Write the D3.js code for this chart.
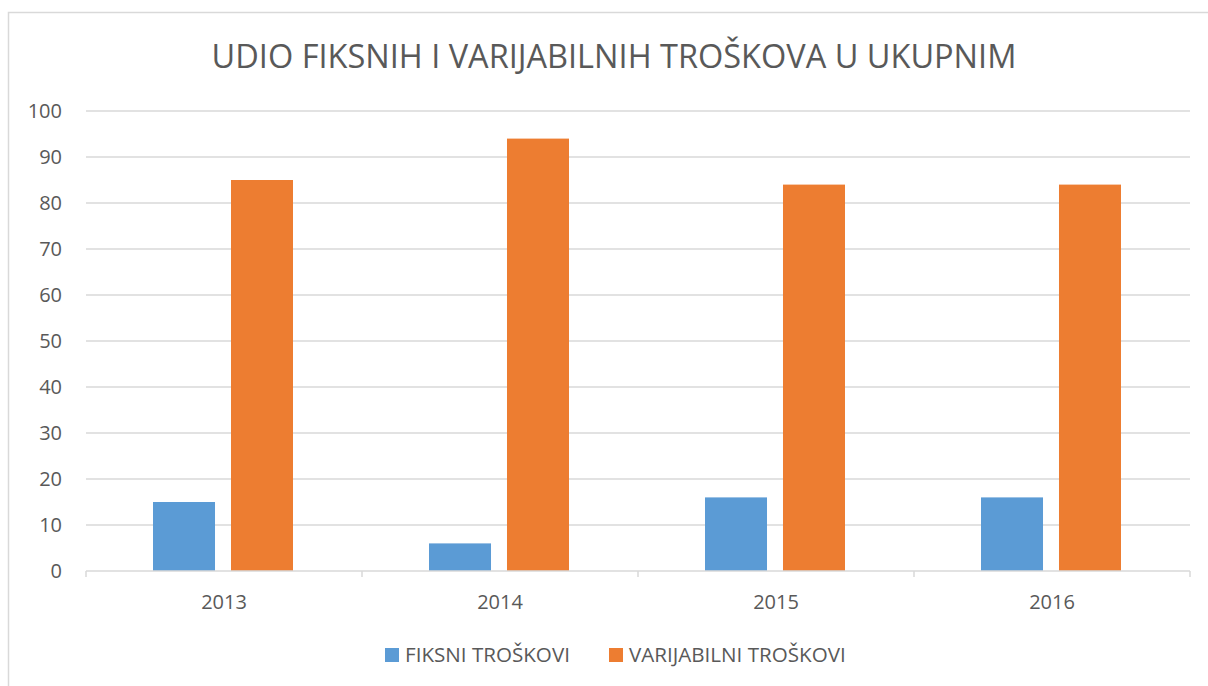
<!DOCTYPE html>
<meta charset="utf-8">
<style>
    * { margin: 0px; }
    body { background: #fff; }
    text { font-family: "Open Sans", "Noto Sans", sans-serif; fill: #595959; }
</style>
<svg width="1208" height="686"></svg>
<script src="https://d3js.org/d3.v7.min.js"></script>
<script>
    var years = ["2013", "2014", "2015", "2016"];
    var series = ["FIKSNI TROŠKOVI", "VARIJABILNI TROŠKOVI"];
    var fiksni = [15, 6, 16, 16];
    var varijabilni = [85, 94, 84, 84];
    var yTicks = [0, 10, 20, 30, 40, 50, 60, 70, 80, 90, 100];
    var colors = ["#5b9bd5", "#ed7d31"];

    var svg = d3.select("svg");
    var margin = {left: 86, right: 18, top: 111, bottom: 115};
    var width = 1208, height = 686;

    // chart frame
    svg.append("rect")
        .attr("x", 8.5).attr("y", 12.5)
        .attr("width", 1300).attr("height", 800)
        .attr("fill", "none").attr("stroke", "#d9d9d9").attr("stroke-width", 1.5);

    svg.append("text")
        .attr("x", 614).attr("y", 68)
        .attr("text-anchor", "middle")
        .style("font-size", "32.5px")
        .text("UDIO FIKSNIH I VARIJABILNIH TROŠKOVA U UKUPNIM");

    var x = d3.scaleBand().domain(years).range([margin.left, width - margin.right]);
    var y = d3.scaleLinear().domain([0, 100]).range([height - margin.bottom, margin.top]);

    // gridlines
    svg.append("g").selectAll("line")
        .data(yTicks.filter(function(d) { return d > 0; }))
        .enter().append("line")
        .attr("x1", margin.left).attr("x2", width - margin.right)
        .attr("y1", function(d) { return y(d); }).attr("y2", function(d) { return y(d); })
        .attr("stroke", "#d9d9d9").attr("stroke-width", 1.5);

    svg.append("g").selectAll("text")
        .data(yTicks)
        .enter().append("text")
        .attr("x", 62).attr("y", function(d) { return y(d); })
        .attr("dy", "0.35em")
        .attr("text-anchor", "end")
        .style("font-size", "20px")
        .text(function(d) { return d; });

    var inner = d3.scaleBand().domain([0, 1])
        .range([-0.2536 * x.bandwidth(), 0.2536 * x.bandwidth()])
        .paddingInner(0.205).paddingOuter(0);

    var data = [fiksni, varijabilni];
    var g = svg.append("g");
    data.forEach(function(vals, si) {
        g.selectAll(".b" + si)
            .data(vals)
            .enter().append("rect")
            .attr("x", function(d, i) { return x(years[i]) + x.bandwidth() / 2 - 1 + inner(si); })
            .attr("width", inner.bandwidth())
            .attr("y", function(d) { return y(d); })
            .attr("height", function(d) { return y(0) - y(d); })
            .attr("fill", colors[si]);
    });

    // x axis
    var axis = svg.append("g").attr("transform", "translate(0," + y(0) + ")");
    axis.append("line")
        .attr("x1", margin.left).attr("x2", width - margin.right)
        .attr("stroke", "#d9d9d9").attr("stroke-width", 1.5);
    axis.selectAll(".tick")
        .data(years.concat(["end"]))
        .enter().append("line")
        .attr("x1", function(d, i) { return margin.left + i * x.step(); })
        .attr("x2", function(d, i) { return margin.left + i * x.step(); })
        .attr("y1", 0).attr("y2", 6)
        .attr("stroke", "#d9d9d9").attr("stroke-width", 1.5);
    axis.selectAll(".lbl")
        .data(years)
        .enter().append("text")
        .attr("x", function(d) { return x(d) + x.bandwidth() / 2; })
        .attr("y", 38)
        .attr("text-anchor", "middle")
        .style("font-size", "20px")
        .text(function(d) { return d; });

    // legend
    var legendX = [385, 609];
    var leg = svg.append("g");
    series.forEach(function(s, i) {
        leg.append("rect")
            .attr("x", legendX[i]).attr("y", 648)
            .attr("width", 14).attr("height", 14)
            .attr("fill", colors[i]);
        leg.append("text")
            .attr("x", legendX[i] + 20).attr("y", 662)
            .style("font-size", "20.6px")
            .text(s);
    });
</script>
